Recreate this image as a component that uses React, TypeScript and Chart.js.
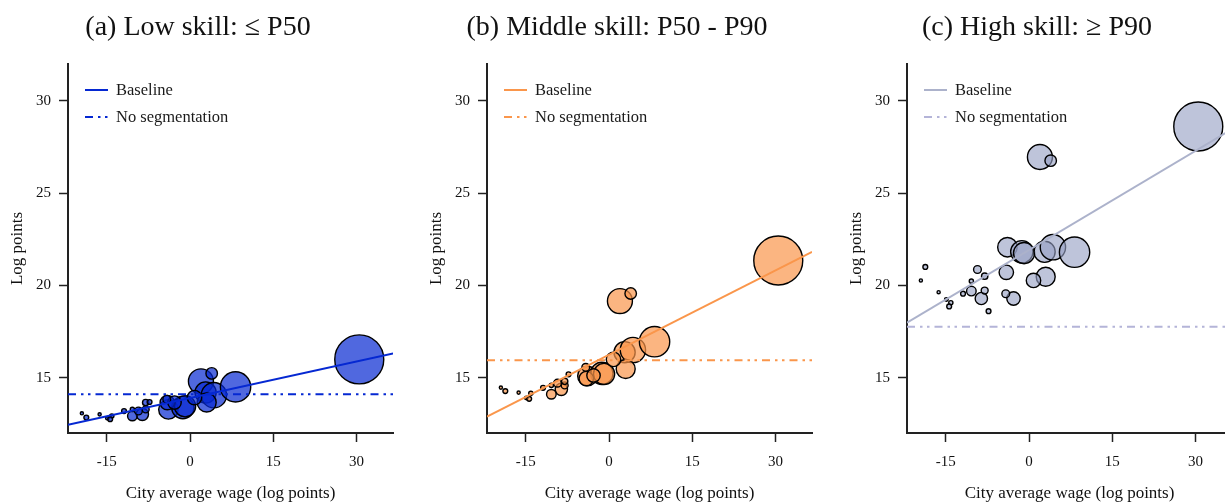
import React, { useEffect, useRef } from "react";
import { Chart, registerables } from "chart.js";

Chart.register(...registerables);

// ---- Data -------------------------------------------------------------
const cityWage = [
  30.5, 1.96, 3.9, -3.9, -1.3, -0.9, 2.8, 4.3, 8.2, -4.1, 3.0, 0.8, -2.8, -4.2,
  -8.6, -10.4, -8.0, -9.3, -8.0, -7.3, -11.9, -10.4, -18.7, -19.5, -16.3, -14.9,
  -14.1, -14.4,
];
const cityWeight = [
  600, 156, 33, 95, 125, 112, 112, 160, 230, 52, 90, 52, 45, 15, 38, 23, 12, 15,
  10, 5.8, 5.8, 4.4, 5.8, 2.5, 2.5, 3.2, 4.4, 5.8,
];
const lowSkill = [
  15.99, 14.8, 15.23, 13.28, 13.38, 13.45, 14.2, 14.05, 14.5, 13.65, 13.65,
  13.92, 13.65, 13.83, 13.01, 12.92, 13.28, 13.19, 13.65, 13.68, 13.19, 13.28,
  12.84, 13.07, 13.01, 12.8, 12.92, 12.75,
];
const middleSkill = [
  21.35, 19.15, 19.56, 15.09, 15.23, 15.2, 16.38, 16.5, 16.95, 14.95, 15.47,
  15.99, 15.12, 15.56, 14.37, 14.1, 14.58, 14.7, 14.8, 15.18, 14.45, 14.58,
  14.27, 14.46, 14.19, 13.9, 14.15, 13.85,
];
const highSkill = [
  28.61, 26.96, 26.76, 22.07, 21.82, 21.75, 21.82, 22.07, 21.8, 20.71, 20.47,
  20.27, 19.29, 19.55, 19.29, 19.69, 19.72, 20.86, 20.5, 18.6, 19.55, 20.23,
  21.0, 20.27, 19.63, 19.24, 19.06, 18.86,
];
const fitRange = [-22, 36.6];
const lowBaseline = [12.44, 16.31];
const middleBaseline = [12.89, 21.82];
const highBaseline = [17.98, 28.47];
const lowNoSeg = [14.1, 14.1];
const middleNoSeg = [15.94, 15.94];
const highNoSeg = [17.76, 17.76];

const xTicks = [-15, 0, 15, 30];
const xTickLabels = ["-15", "0", "15", "30"];
const yTicks = [15, 20, 25, 30];
const yTickLabels = ["15", "20", "25", "30"];

const panelTitles = [
  "(a) Low skill: \u2264 P50",
  "(b) Middle skill: P50 - P90",
  "(c) High skill: \u2265 P90",
];
const seriesLabels = ["Baseline", "No segmentation"];
const xTitle = "City average wage (log points)";
const yTitle = "Log points";

// ---- Styles -----------------------------------------------------------
const SERIF = '"Liberation Serif", "Times New Roman", serif';
const AXIS = "#222222";
const DASHDOT = [8, 5, 2.5, 4.5, 2.5, 5];

const panels = [
  {
    title: panelTitles[0],
    ys: lowSkill,
    base: lowBaseline,
    noSeg: lowNoSeg,
    line: "rgb(5, 40, 210)",
    dash: "rgb(5, 40, 210)",
    fill: "rgba(5, 40, 210, 0.7)",
  },
  {
    title: panelTitles[1],
    ys: middleSkill,
    base: middleBaseline,
    noSeg: middleNoSeg,
    line: "rgb(250, 150, 75)",
    dash: "rgb(250, 150, 75)",
    fill: "rgba(250, 150, 75, 0.7)",
  },
  {
    title: panelTitles[2],
    ys: highSkill,
    base: highBaseline,
    noSeg: highNoSeg,
    line: "rgb(172, 178, 203)",
    dash: "rgb(180, 180, 216)",
    fill: "rgba(150, 160, 195, 0.62)",
  },
];

const insideLegend = {
  id: "insideLegend",
  afterDatasetsDraw(chart: any) {
    const { ctx, chartArea } = chart;
    const items = chart.data.datasets.filter((d: any) => d.type === "line");
    items.forEach((d: any, i: number) => {
      const y = chartArea.top + 26 + i * 27;
      ctx.save();
      ctx.strokeStyle = d.borderColor;
      ctx.lineWidth = d.borderWidth;
      ctx.lineCap = "butt";
      ctx.setLineDash(d.borderDash || []);
      ctx.beginPath();
      ctx.moveTo(chartArea.left + 17, y);
      ctx.lineTo(chartArea.left + 40, y);
      ctx.stroke();
      ctx.setLineDash([]);
      ctx.fillStyle = "#1a1a1a";
      ctx.font = `16.5px ${SERIF}`;
      ctx.textBaseline = "middle";
      ctx.textAlign = "left";
      ctx.fillText(d.label, chartArea.left + 48, y + 1);
      ctx.restore();
    });
  },
};

function Panel({ p }: { p: (typeof panels)[number] }) {
  const ref = useRef<HTMLCanvasElement | null>(null);
  useEffect(() => {
    if (!ref.current) return;
    const chart = new Chart(ref.current, {
      type: "bubble",
      data: {
        datasets: [
          {
            type: "line",
            label: seriesLabels[0],
            data: fitRange.map((x, i) => ({ x, y: p.base[i] })),
            borderColor: p.line,
            borderWidth: 2,
            pointRadius: 0,
            order: 0,
          } as any,
          {
            type: "line",
            label: seriesLabels[1],
            data: fitRange.map((x, i) => ({ x, y: p.noSeg[i] })),
            borderColor: p.dash,
            borderWidth: 2,
            borderDash: DASHDOT,
            pointRadius: 0,
            order: 0,
          } as any,
          {
            type: "bubble",
            label: "Cities",
            data: cityWage.map((x, i) => ({
              x,
              y: p.ys[i],
              r: Math.sqrt(cityWeight[i]),
            })),
            backgroundColor: p.fill,
            borderColor: "#000000",
            borderWidth: 1.4,
            order: 1,
          } as any,
        ],
      },
      options: {
        animation: false,
        responsive: true,
        maintainAspectRatio: false,
        layout: { padding: { left: 0, right: 23, top: 0, bottom: 0 } },
        plugins: {
          legend: { display: false },
          tooltip: { enabled: false },
          title: {
            display: true,
            text: p.title,
            color: "#111111",
            font: { family: SERIF, size: 28, weight: "normal", lineHeight: 1.2 },
            padding: { top: 11, bottom: 19.4 },
          },
        },
        scales: {
          x: {
            type: "linear",
            min: fitRange[0],
            max: fitRange[1],
            afterFit: (s: any) => {
              s.height = 71;
            },
            afterBuildTicks: (s: any) => {
              s.ticks = xTicks.map((v) => ({ value: v }));
            },
            ticks: {
              callback: (v: any) => xTickLabels[xTicks.indexOf(Number(v))],
              font: { family: SERIF, size: 15, lineHeight: 1.2 },
              color: "#111111",
              padding: 11,
              maxRotation: 0,
              autoSkip: false,
            },
            grid: {
              display: true,
              drawOnChartArea: false,
              drawTicks: true,
              tickLength: 9,
              tickWidth: 1.5,
              tickColor: AXIS,
            },
            border: { display: true, color: AXIS, width: 2 },
            title: {
              display: true,
              text: xTitle,
              color: "#111111",
              font: { family: SERIF, size: 17, lineHeight: 1.2 },
              padding: { top: 0, bottom: 0 },
            },
          },
          y: {
            type: "linear",
            min: 12,
            max: 32,
            afterFit: (s: any) => {
              s.width = 68;
            },
            afterBuildTicks: (s: any) => {
              s.ticks = yTicks.map((v) => ({ value: v }));
            },
            ticks: {
              callback: (v: any) => yTickLabels[yTicks.indexOf(Number(v))],
              font: { family: SERIF, size: 15, lineHeight: 1.2 },
              color: "#111111",
              padding: 8,
              autoSkip: false,
            },
            grid: {
              display: true,
              drawOnChartArea: false,
              drawTicks: true,
              tickLength: 9,
              tickWidth: 1.5,
              tickColor: AXIS,
            },
            border: { display: true, color: AXIS, width: 2 },
            title: {
              display: true,
              text: yTitle,
              color: "#111111",
              font: { family: SERIF, size: 17, lineHeight: 1.2 },
              padding: { top: 7, bottom: 0 },
            },
          },
        },
      } as any,
      plugins: [insideLegend],
    });
    return () => chart.destroy();
  }, [p]);
  return <canvas ref={ref} />;
}

const panelLeft = [0, 419, 839];

export default function App() {
  return (
    <div
      style={{
        position: "fixed",
        left: 0,
        top: 0,
        width: 1225,
        height: 504,
        overflow: "hidden",
        background: "#ffffff",
      }}
    >
      {panels.map((p, i) => (
        <div
          key={i}
          style={{
            position: "absolute",
            left: panelLeft[i],
            top: 0,
            width: 419,
            height: 504,
          }}
        >
          <Panel p={p} />
        </div>
      ))}
    </div>
  );
}
